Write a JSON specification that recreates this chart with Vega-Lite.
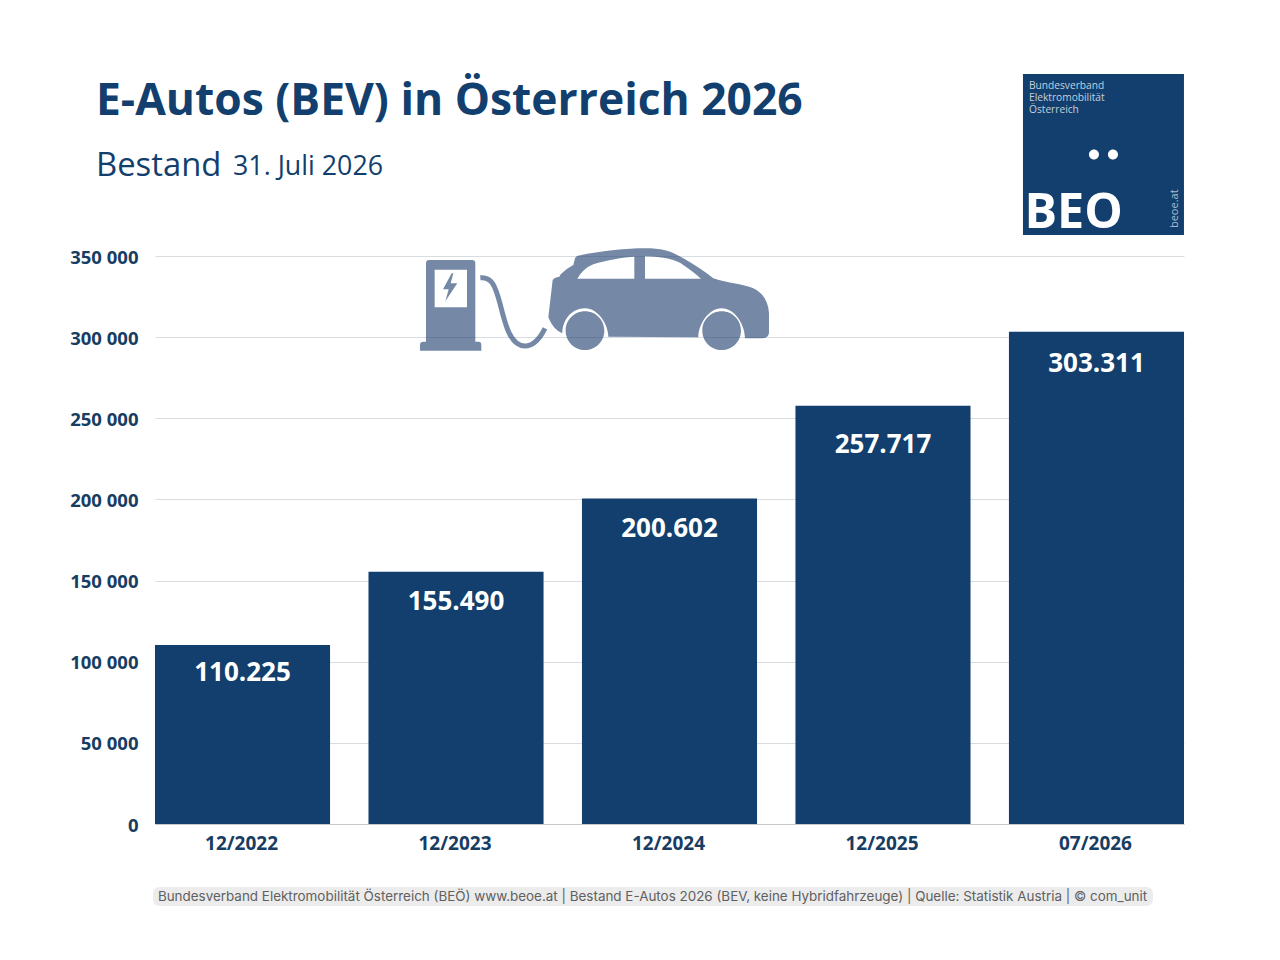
{
  "$schema": "https://vega.github.io/schema/vega-lite/v6.json",
  "autosize": "none",
  "width": 1029,
  "height": 568,
  "padding": {"left": 155, "top": 256, "right": 96, "bottom": 136},
  "background": "white",
  "config": {
    "view": {"stroke": null},
    "font": "Open Sans",
    "locale": {"number": {"decimal": ",", "thousands": ".", "grouping": [3], "currency": ["", " €"]}}
  },
  "title": {
    "text": "E-Autos (BEV) in Österreich 2026",
    "subtitle": "Bestand",
    "anchor": "start",
    "frame": "group",
    "dx": -59,
    "offset": -110,
    "font": "Open Sans",
    "fontSize": 44.4,
    "fontWeight": "bold",
    "color": "#123f6d",
    "subtitleFont": "Open Sans",
    "subtitleFontSize": 32.8,
    "subtitleColor": "#123f6d",
    "subtitlePadding": 26
  },
  "datasets": {
    "bestand": [
      {"monat": "12/2022", "autos": 110225},
      {"monat": "12/2023", "autos": 155490},
      {"monat": "12/2024", "autos": 200602},
      {"monat": "12/2025", "autos": 257717},
      {"monat": "07/2026", "autos": 303311}
    ],
    "deko": [{"id": 1}]
  },
  "layer": [
    {
      "data": {"name": "bestand"},
      "mark": {"type": "bar", "color": "#123f6d"},
      "encoding": {
        "x": {
          "field": "monat",
          "type": "nominal",
          "sort": null,
          "title": null,
          "scale": {
            "domain": ["12/2022", "12/2023", "12/2024", "12/2025", "07/2026"],
            "paddingInner": 0.18,
            "paddingOuter": 0
          },
          "axis": {
            "labelAngle": 0,
            "labelFont": "Open Sans",
            "labelFontSize": 19,
            "labelFontWeight": "bold",
            "labelColor": "#173d63",
            "labelPadding": 10,
            "labelOffset": -1,
            "ticks": false,
            "domain": true,
            "domainColor": "#c4c8cc",
            "grid": false
          }
        },
        "y": {
          "field": "autos",
          "type": "quantitative",
          "title": null,
          "scale": {"domain": [0, 350000], "nice": false},
          "axis": {
            "values": [0, 50000, 100000, 150000, 200000, 250000, 300000, 350000],
            "labelExpr": "replace(format(datum.value, ',d'), '.', ' ')",
            "labelFont": "Open Sans",
            "labelFontSize": 18.5,
            "labelFontWeight": "bold",
            "labelColor": "#173d63",
            "labelPadding": 17,
            "labelOffset": 1,
            "ticks": false,
            "domain": false,
            "grid": true,
            "gridColor": "#d8dde2",
            "gridWidth": 1
          }
        }
      }
    },
    {
      "data": {"name": "bestand"},
      "mark": {
        "type": "text",
        "font": "Open Sans",
        "fontSize": 26,
        "fontWeight": "bold",
        "color": "white",
        "baseline": "middle",
        "dy": {"expr": "{'12/2022': 28, '12/2023': 30, '12/2024': 31, '12/2025': 39, '07/2026': 32}[datum.monat]"}
      },
      "encoding": {
        "x": {"field": "monat", "type": "nominal", "title": null},
        "y": {"field": "autos", "type": "quantitative", "title": null},
        "text": {"field": "autos", "type": "quantitative", "format": ",d"}
      }
    },
    {
      "data": {"name": "deko"},
      "mark": {
        "type": "point",
        "filled": true,
        "opacity": 1,
        "fill": "#193a6b",
        "fillOpacity": 0.6,
        "strokeWidth": 0,
        "size": 0.4444,
        "xOffset": -269.5,
        "shape": "M78,100Q78,90 88,90H216Q226,90 226,100V335H236Q244,335 244,345V362H60V345Q60,335 70,335H78ZM104,119V232H201V119ZM155,130L129,178H146L136,214L172,160H152L160,130ZM445,262L458,150Q462,142 478,140L482,133Q500,115 520,105L525,85Q528,78 540,76C610,62 680,55 735,55C790,55 810,62 850,85C885,105 915,125 940,145C975,158 1030,162 1060,175C1090,190 1105,215 1107,250V310Q1105,325 1085,325H1035C1035,285 1005,235 965,235C925,235 895,285 895,322L625,320C625,285 595,235 555,235C515,235 487,270 487,310Q460,300 445,262ZM532,146H703V80C670,82 620,90 580,103Q550,115 532,146ZM735,146H903C890,135 870,118 850,105C830,90 790,80 735,79ZM497,302C497,270 523,244 555,244C587,244 613,270 613,302C613,334 587,360 555,360C523,360 497,334 497,302ZM907,302C907,270 933,244 965,244C997,244 1023,270 1023,302C1023,334 997,360 965,360C933,360 907,334 907,302Z"
      },
      "encoding": {
        "x": {"datum": "12/2024", "type": "nominal", "title": null},
        "y": {"datum": 366000, "type": "quantitative", "title": null}
      }
    },
    {
      "data": {"name": "deko"},
      "mark": {
        "type": "point",
        "filled": false,
        "opacity": 1,
        "stroke": "#193a6b",
        "strokeOpacity": 0.6,
        "strokeWidth": 5,
        "strokeCap": "butt",
        "size": 0.4444,
        "xOffset": -269.5,
        "shape": "M241,143C275,140 285,165 300,220C315,280 330,348 375,348C400,348 420,325 435,295"
      },
      "encoding": {
        "x": {"datum": "12/2024", "type": "nominal", "title": null},
        "y": {"datum": 366000, "type": "quantitative", "title": null}
      }
    },
    {
      "data": {"name": "deko"},
      "mark": {"type": "point", "shape": "square", "filled": true, "opacity": 1, "fill": "#123f6d", "strokeWidth": 0, "size": 25921, "xOffset": 7},
      "encoding": {
        "x": {"datum": "07/2026", "type": "nominal", "title": null},
        "y": {"datum": 412500, "type": "quantitative", "title": null}
      }
    },
    {
      "data": {"name": "deko"},
      "mark": {
        "type": "point",
        "filled": true,
        "opacity": 1,
        "fill": "white",
        "strokeWidth": 0,
        "size": 4,
        "xOffset": 7,
        "shape": "M-14.5,0C-14.5,-2.8 -12.3,-5 -9.5,-5C-6.7,-5 -4.5,-2.8 -4.5,0C-4.5,2.8 -6.7,5 -9.5,5C-12.3,5 -14.5,2.8 -14.5,0ZM4.5,0C4.5,-2.8 6.7,-5 9.5,-5C12.3,-5 14.5,-2.8 14.5,0C14.5,2.8 12.3,5 9.5,5C6.7,5 4.5,2.8 4.5,0Z"
      },
      "encoding": {
        "x": {"datum": "07/2026", "type": "nominal", "title": null},
        "y": {"datum": 412500, "type": "quantitative", "title": null}
      }
    },
    {
      "data": {"name": "deko"},
      "mark": {
        "type": "text",
        "text": ["Bundesverband", "Elektromobilität", "Österreich"],
        "font": "Open Sans",
        "fontSize": 10.2,
        "lineHeight": 12,
        "color": "#c3d0de",
        "align": "left",
        "baseline": "alphabetic",
        "xOffset": -67.5,
        "yOffset": -65.5
      },
      "encoding": {
        "x": {"datum": "07/2026", "type": "nominal", "title": null},
        "y": {"datum": 412500, "type": "quantitative", "title": null}
      }
    },
    {
      "data": {"name": "deko"},
      "mark": {
        "type": "text",
        "text": "BEO",
        "font": "Open Sans",
        "fontSize": 48.5,
        "fontWeight": "bold",
        "color": "white",
        "align": "left",
        "baseline": "alphabetic",
        "xOffset": -72,
        "yOffset": 73
      },
      "encoding": {
        "x": {"datum": "07/2026", "type": "nominal", "title": null},
        "y": {"datum": 412500, "type": "quantitative", "title": null}
      }
    },
    {
      "data": {"name": "deko"},
      "mark": {
        "type": "text",
        "text": "beoe.at",
        "font": "Open Sans",
        "fontSize": 11,
        "color": "#a9bbcf",
        "angle": 270,
        "align": "left",
        "baseline": "alphabetic",
        "xOffset": 82,
        "yOffset": 73.5
      },
      "encoding": {
        "x": {"datum": "07/2026", "type": "nominal", "title": null},
        "y": {"datum": 412500, "type": "quantitative", "title": null}
      }
    },
    {
      "data": {"name": "deko"},
      "mark": {
        "type": "text",
        "text": "31. Juli 2026",
        "font": "Open Sans",
        "fontSize": 26.8,
        "color": "#123f6d",
        "align": "left",
        "baseline": "alphabetic",
        "xOffset": -9.5
      },
      "encoding": {
        "x": {"datum": "12/2022", "type": "nominal", "title": null},
        "y": {"datum": 400000, "type": "quantitative", "title": null}
      }
    },
    {
      "data": {"name": "deko"},
      "mark": {
        "type": "point",
        "filled": true,
        "opacity": 1,
        "fill": "#ececec",
        "strokeWidth": 0,
        "size": 4,
        "xOffset": -16.5,
        "shape": "M-493,-9.5H493Q500,-9.5 500,-2.5V2.5Q500,9.5 493,9.5H-493Q-500,9.5 -500,2.5V-2.5Q-500,-9.5 -493,-9.5Z"
      },
      "encoding": {
        "x": {"datum": "12/2024", "type": "nominal", "title": null},
        "y": {"datum": -44675, "type": "quantitative", "title": null}
      }
    },
    {
      "data": {"name": "deko"},
      "mark": {
        "type": "text",
        "text": "Bundesverband Elektromobilität Österreich (BEÖ) www.beoe.at | Bestand E-Autos 2026 (BEV, keine Hybridfahrzeuge) | Quelle: Statistik Austria | © com_unit",
        "font": "Inter",
        "fontSize": 13.43,
        "color": "#606060",
        "align": "center",
        "baseline": "middle",
        "xOffset": -17
      },
      "encoding": {
        "x": {"datum": "12/2024", "type": "nominal", "title": null},
        "y": {"datum": -44675, "type": "quantitative", "title": null}
      }
    }
  ]
}
